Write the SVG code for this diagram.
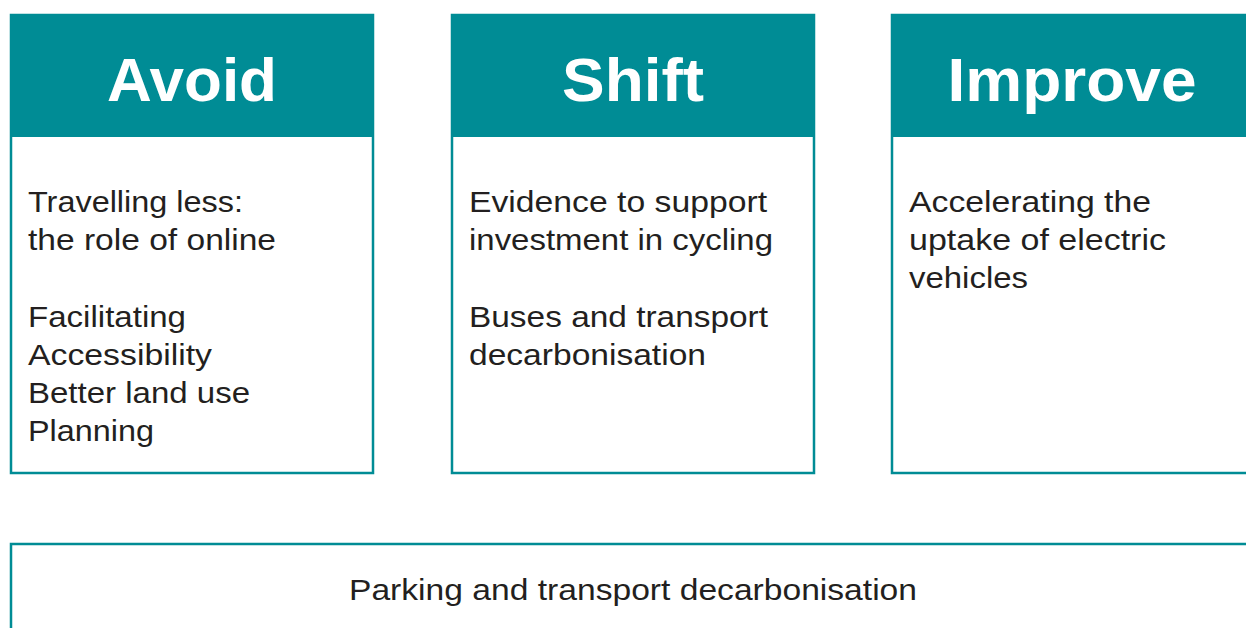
<svg xmlns="http://www.w3.org/2000/svg" width="1246" height="628" viewBox="0 0 1246 628">
  <style>
    .box { fill: #ffffff; stroke: #008C95; stroke-width: 2.5; }
    .head { fill: #008C95; }
    .title { font-family: "Liberation Sans", Arial, sans-serif; font-weight: bold; font-size: 61px; fill: #ffffff; text-anchor: middle; }
    .body { font-family: "Liberation Sans", Arial, sans-serif; font-size: 30px; fill: #231F20; }
  </style>
  <rect width="1246" height="628" fill="#ffffff"/>
  <g id="avoid">
    <rect class="box" x="11" y="15" width="362" height="458"/>
    <rect class="head" x="10" y="14" width="364" height="123"/>
    <text class="title" x="192" y="101" textLength="170" lengthAdjust="spacingAndGlyphs">Avoid</text>
    <text class="body" x="28" y="212" textLength="215" lengthAdjust="spacingAndGlyphs">Travelling less:</text>
    <text class="body" x="28" y="250" textLength="248" lengthAdjust="spacingAndGlyphs">the role of online</text>
    <text class="body" x="28" y="327" textLength="158" lengthAdjust="spacingAndGlyphs">Facilitating</text>
    <text class="body" x="28" y="365" textLength="184" lengthAdjust="spacingAndGlyphs">Accessibility</text>
    <text class="body" x="28" y="403" textLength="222" lengthAdjust="spacingAndGlyphs">Better land use</text>
    <text class="body" x="28" y="441" textLength="126" lengthAdjust="spacingAndGlyphs">Planning</text>
  </g>
  <g id="shift">
    <rect class="box" x="452" y="15" width="362" height="458"/>
    <rect class="head" x="451" y="14" width="364" height="123"/>
    <text class="title" x="633" y="101" textLength="142" lengthAdjust="spacingAndGlyphs">Shift</text>
    <text class="body" x="469" y="212" textLength="298" lengthAdjust="spacingAndGlyphs">Evidence to support</text>
    <text class="body" x="469" y="250" textLength="304" lengthAdjust="spacingAndGlyphs">investment in cycling</text>
    <text class="body" x="469" y="327" textLength="299" lengthAdjust="spacingAndGlyphs">Buses and transport</text>
    <text class="body" x="469" y="365" textLength="237" lengthAdjust="spacingAndGlyphs">decarbonisation</text>
  </g>
  <g id="improve">
    <rect class="box" x="892" y="15" width="400" height="458"/>
    <rect class="head" x="891" y="14" width="402" height="123"/>
    <text class="title" x="1072" y="101" textLength="249" lengthAdjust="spacingAndGlyphs">Improve</text>
    <text class="body" x="909" y="212" textLength="242" lengthAdjust="spacingAndGlyphs">Accelerating the</text>
    <text class="body" x="909" y="250" textLength="257" lengthAdjust="spacingAndGlyphs">uptake of electric</text>
    <text class="body" x="909" y="288" textLength="119" lengthAdjust="spacingAndGlyphs">vehicles</text>
  </g>
  <g id="parking">
    <rect class="box" x="11" y="544" width="1300" height="120"/>
    <text class="body" x="349" y="600" textLength="568" lengthAdjust="spacingAndGlyphs">Parking and transport decarbonisation</text>
  </g>
  <g id="connectors"></g>
</svg>
